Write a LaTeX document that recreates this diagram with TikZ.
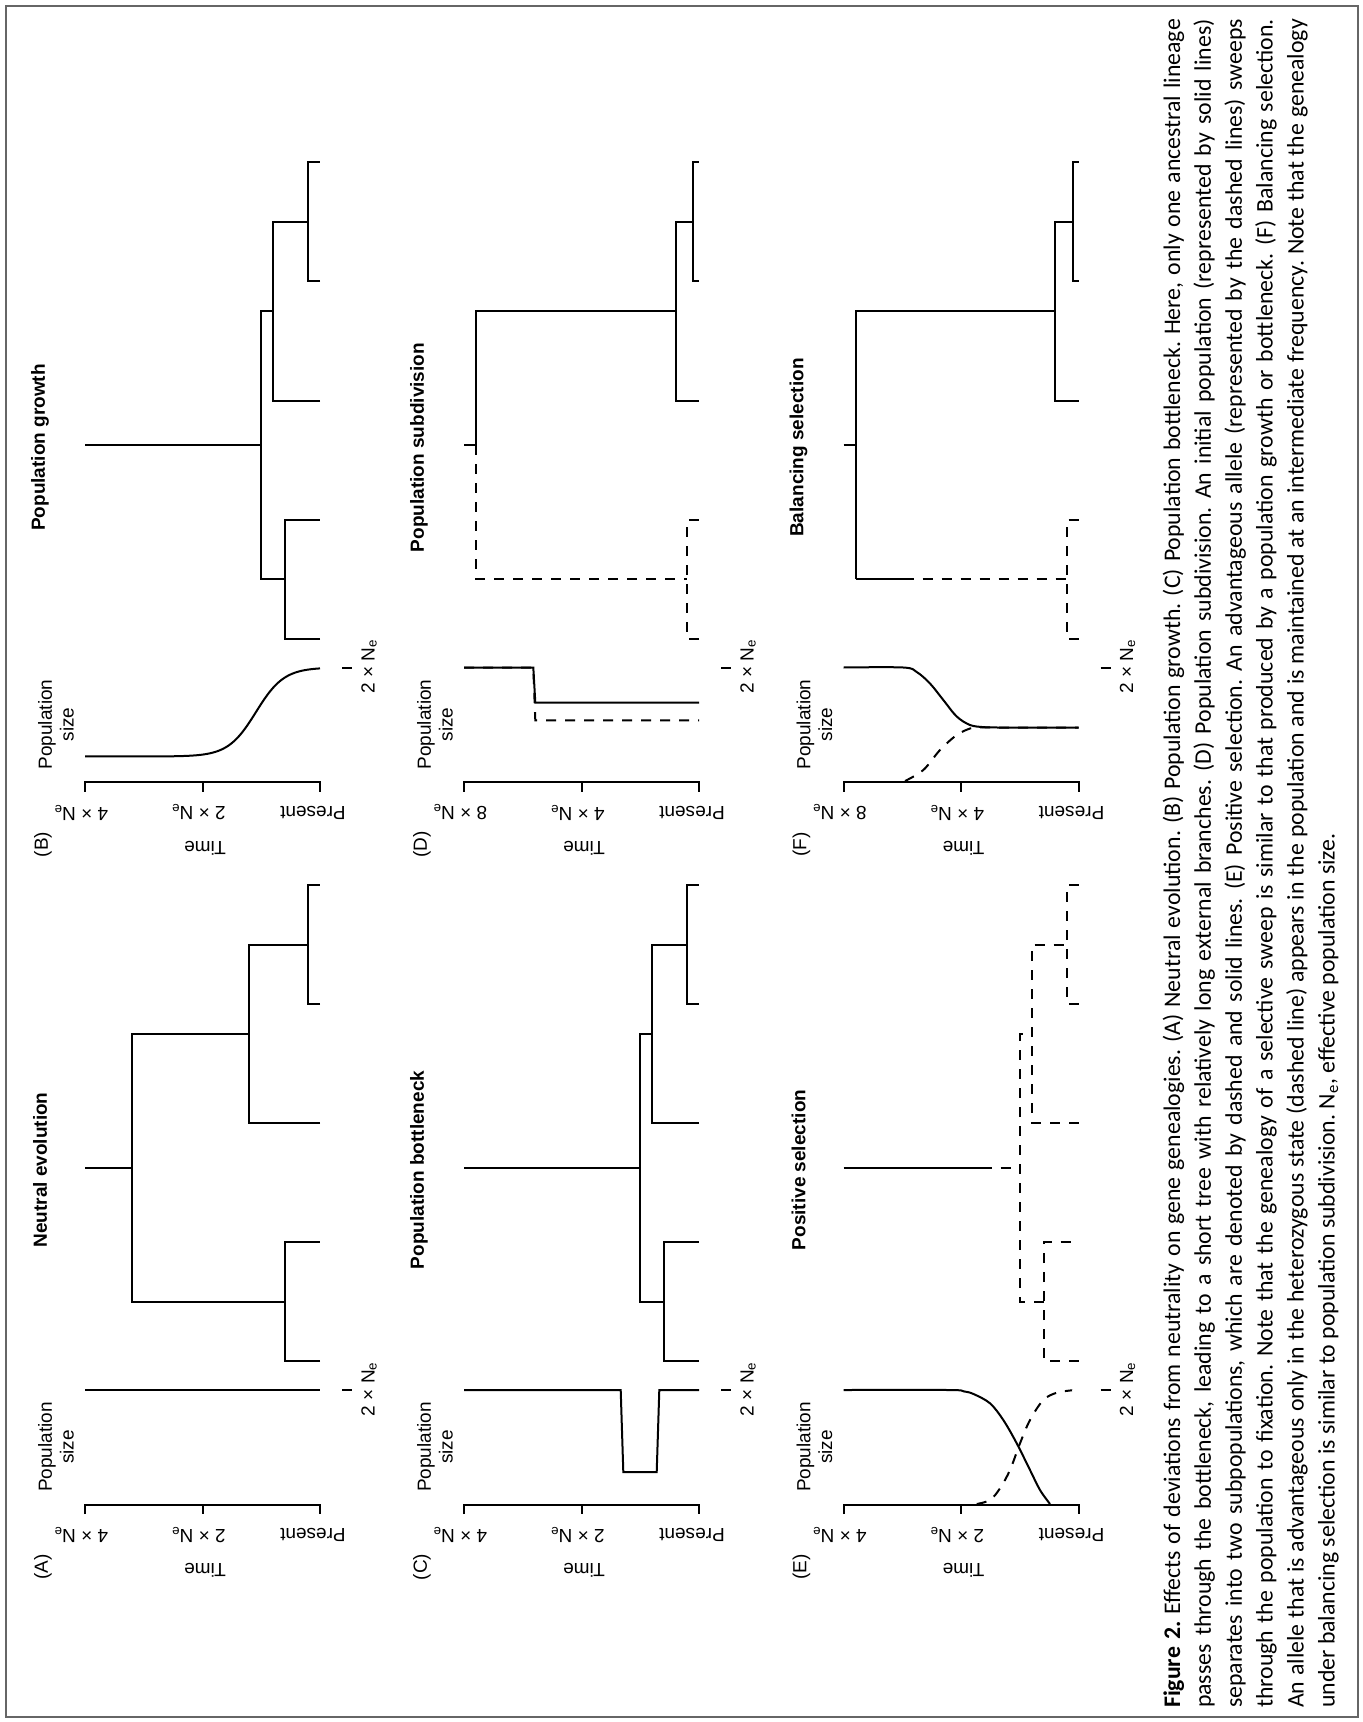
\documentclass[tikz,border=0pt]{standalone}
\usepackage{fontspec}
\setmainfont{Liberation Sans}
\newfontfamily\capfont{Carlito}
\begin{document}
\frenchspacing
\begin{tikzpicture}[x=0.5pt,y=-0.5pt,
  ln/.style={line width=1pt, line join=miter},
  dsh/.style={ln, dash pattern=on 5pt off 4.5pt},
  lab/.style={font=\fontsize{9.5}{10.9}\selectfont, inner sep=0pt},
  tlab/.style={lab, rotate=180},
  vlab/.style={lab, rotate=90},
  ttl/.style={font=\fontsize{9.5}{11}\selectfont\bfseries, inner sep=0pt, rotate=90},
  capl/.style={inner sep=0pt, anchor=base west, rotate=90, font=\capfont\fontsize{11.9}{14}\selectfont},
]
\useasboundingbox (0,0) rectangle (1362,1722);
\draw[black!60, line width=0.9pt] (6,6) rectangle (1358,1717);

\newcommand\pframe[5]{%
  \draw[ln] (85,1514) -- (85,1504.5) -- (320,1504.5) -- (320,1514);
  \draw[ln] (202.5,1504.5) -- (202.5,1514);
  \node[tlab] (#1ta) at (81,1535) {#4};
  \node[tlab] (#1tb) at (198.5,1535) {#5};
  \node[tlab] (#1tc) at (313,1535) {Present};
  \node[tlab] (#1time) at (205,1570.5) {Time};
  \node[vlab] (#1let) at (43,1567) {(#2)};
  \node[vlab, align=center] (#1pop) at (56,1447) {Population\\size};
  \draw[ln] (342,1390) -- (352,1390);
  \node[vlab] (#1ne) at (369,1389) {2 × N\textsubscript{e}};
  \node[ttl] (#1ttl) at (40,1170) {#3};
}

% ---------- Panel A ----------
\begin{scope}
  \pframe{A}{A}{Neutral evolution}{4 × N\textsubscript{e}}{2 × N\textsubscript{e}}
  \draw[ln] (85,1390) -- (320,1390);
  \draw[ln] (85,1167.6) -- (131.7,1167.6);
  \draw[ln] (285,1301.5) -| (131.7,1033.75) -- (249.3,1033.75);
  \draw[ln] (320,1361) -| (285,1242) -- (320,1242);
  \draw[ln] (320,1123) -| (249.3,944.5) -- (308.3,944.5);
  \draw[ln] (320,1004) -| (308.3,885) -- (320,885);
\end{scope}

% ---------- Panel B ----------
\begin{scope}[shift={(0,-722.5)}]
  \pframe{B}{B}{Population growth}{4 × N\textsubscript{e}}{2 × N\textsubscript{e}}
  \draw[ln] plot[domain=85:320, samples=140, variable=\t]
     ({\t}, {1479 - 89/(1+exp(-max(-9,min(9,(\t-256)/14))))});
  \draw[ln] (85,1167.6) -- (261,1167.6);
  \draw[ln] (285,1301.5) -| (261,1033.75) -- (273.3,1033.75);
  \draw[ln] (320,1361) -| (285,1242) -- (320,1242);
  \draw[ln] (320,1123) -| (273.3,944.5) -- (308.3,944.5);
  \draw[ln] (320,1004) -| (308.3,885) -- (320,885);
\end{scope}

% ---------- Panel C ----------
\begin{scope}[shift={(379,0)}]
  \pframe{C}{C}{Population bottleneck}{4 × N\textsubscript{e}}{2 × N\textsubscript{e}}
  \draw[ln] (85,1390) -- (241.7,1390) -- (244.3,1472) -- (277.7,1472) -- (280.3,1390) -- (320,1390);
  \draw[ln] (85,1167.6) -- (261,1167.6);
  \draw[ln] (285,1301.5) -| (261,1033.75) -- (273.3,1033.75);
  \draw[ln] (320,1361) -| (285,1242) -- (320,1242);
  \draw[ln] (320,1123) -| (273.3,944.5) -- (308.3,944.5);
  \draw[ln] (320,1004) -| (308.3,885) -- (320,885);
\end{scope}

% ---------- Panel D ----------
\begin{scope}[shift={(379,-722.5)}]
  \pframe{D}{D}{Population subdivision}{8 × N\textsubscript{e}}{4 × N\textsubscript{e}}
  \draw[dsh] (85,1390) -- (154.3,1390) -- (156.3,1442.9) -- (320,1442.9);
  \draw[ln] (85,1390) -- (154.3,1390) -- (156.3,1425.1) -- (320,1425.1);
  \draw[ln] (85,1167.6) -- (97,1167.6);
  \draw[ln] (97,1167.6) -- (97,1033.75) -- (296.7,1033.75);
  \draw[ln] (320,1123) -| (296.7,944.5) -- (314.3,944.5);
  \draw[ln] (320,1004) -| (314.3,885) -- (320,885);
  \draw[dsh] (97,1167.6) -- (97,1301.5) -- (308,1301.5);
  \draw[dsh] (320,1361) -| (308,1242) -- (320,1242);
\end{scope}

% ---------- Panel E ----------
\begin{scope}[shift={(758.5,0)}]
  \pframe{E}{E}{Positive selection}{4 × N\textsubscript{e}}{2 × N\textsubscript{e}}
  \draw[ln] plot[smooth, tension=0.55] coordinates {(85,1390) (190,1390) (205,1391.3) (215,1394) (231.5,1403.3) (244.8,1420) (258.2,1443.3) (271.5,1470) (281.5,1490) (291.5,1504)};
  \draw[dsh] plot[smooth, tension=0.55] coordinates {(218.2,1504) (231.5,1500) (241.5,1488.3) (251.5,1470) (261.5,1443.3) (271.5,1420) (284.8,1400) (298.2,1392.7) (311.5,1390.5) (313.5,1390.3)};
  \draw[ln] (85,1167.6) -- (223,1167.6);
  \draw[dsh] (223,1167.6) -- (261,1167.6);
  \draw[dsh] (285,1301.5) -| (261,1033.75) -- (273.3,1033.75);
  \draw[dsh] (320,1361) -| (285,1242) -- (320,1242);
  \draw[dsh] (320,1123) -| (273.3,944.5) -- (308.3,944.5);
  \draw[dsh] (320,1004) -| (308.3,885) -- (320,885);
\end{scope}

% ---------- Panel F ----------
\begin{scope}[shift={(758.5,-722.5)}]
  \pframe{F}{F}{Balancing selection}{8 × N\textsubscript{e}}{4 × N\textsubscript{e}}
  \draw[dsh] plot[smooth, tension=0.55] coordinates {(146.5,1503.5) (164.8,1492.5) (181.5,1472.5) (198.2,1457.5) (211.5,1451) (219.8,1449.8) (232,1450)} -- (320,1450);
  \draw[ln] plot[smooth, tension=0.55] coordinates {(85,1390) (144.8,1390) (158.2,1394.5) (171.5,1406) (184.8,1422.5) (198.2,1439) (211.5,1447.5) (224.8,1449.6) (240,1450) (320,1450)};
  \draw[ln] (85,1167.6) -- (97,1167.6);
  \draw[ln] (97,1301.5) -- (97,1033.75) -- (296.7,1033.75);
  \draw[ln] (320,1123) -| (296.7,944.5) -- (314.3,944.5);
  \draw[ln] (320,1004) -| (314.3,885) -- (320,885);
  \draw[ln] (97,1301.5) -- (145,1301.5);
  \draw[dsh] (145,1301.5) -- (308,1301.5);
  \draw[dsh] (320,1361) -| (308,1242) -- (320,1242);
\end{scope}

% ---------- Caption ----------
\node[capl] (cap1) at (1180,1708.3) {\makebox[844.5pt][s]{\textbf{Figure 2.} Effects of deviations from neutrality on gene genealogies. (A) Neutral evolution. (B) Population growth. (C) Population bottleneck. Here, only one ancestral lineage}};
\node[capl] (cap2) at (1210.9,1708.3) {\makebox[844.5pt][s]{passes through the bottleneck, leading to a short tree with relatively long external branches. (D) Population subdivision. An initial population (represented by solid lines)}};
\node[capl] (cap3) at (1241.8,1708.3) {\makebox[844.5pt][s]{separates into two subpopulations, which are denoted by dashed and solid lines. (E) Positive selection. An advantageous allele (represented by the dashed lines) sweeps}};
\node[capl] (cap4) at (1272.7,1708.3) {\makebox[844.5pt][s]{through the population to fixation. Note that the genealogy of a selective sweep is similar to that produced by a population growth or bottleneck. (F) Balancing selection.}};
\node[capl] (cap5) at (1303.6,1708.3) {\makebox[844.5pt][s]{An allele that is advantageous only in the heterozygous state (dashed line) appears in the population and is maintained at an intermediate frequency. Note that the genealogy}};
\node[capl] (cap6) at (1334.5,1708.3) {under balancing selection is similar to population subdivision. N\textsubscript{e}, effective population size.};
\end{tikzpicture}
\end{document}
